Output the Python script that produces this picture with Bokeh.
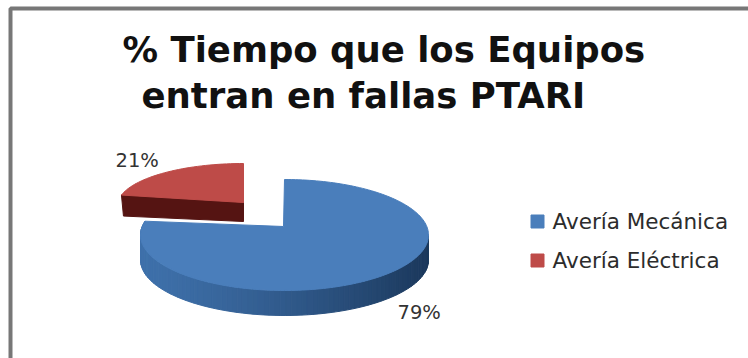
import numpy as np
from bokeh.core.properties import value
from bokeh.embed import file_html
from bokeh.models import Range1d
from bokeh.plotting import figure
from bokeh.resources import INLINE

# Chart content
title_lines = ["% Tiempo que los Equipos", "entran en fallas PTARI"]
categories = ["Avería Mecánica", "Avería Eléctrica"]
shares = [79, 21]
share_labels = ["79%", "21%"]
colors = ["#4a7ebb", "#be4b48"]

W, H = 748, 358
p = figure(width=W, height=H, output_backend="svg", toolbar_location=None,
           x_range=Range1d(0, W), y_range=Range1d(H, 0), min_border=0)
p.axis.visible = False
p.grid.visible = False
p.outline_line_color = None
p.background_fill_color = "white"
p.border_fill_color = "white"

# Frame of the chart area
p.quad(left=[10], right=[W + 6], top=[8], bottom=[H + 6], fill_color="white",
       line_color="#777777", line_width=4)


def rim(angle, cx, cy, rx, ry):
    """Point on the tilted disc, angle in degrees clockwise from twelve o'clock."""
    t = np.radians(angle)
    return cx + rx * np.sin(t), cy - ry * np.cos(t)


def mix(a, b, f):
    return tuple(int(round(a[i] + (b[i] - a[i]) * f)) for i in range(3))


split = 360 * shares[0] / sum(shares)

# Layout of the two slices
blue = dict(cx=284, cy=234.5, rx=144, ry=55.5)
blue_apex = (283, 226)
red = dict(cx=243, cy=205, rx=126, ry=42)
red_apex = (243, 202)
blue_depth = 25
red_depth = 19

# Exploded red slice: cut wall, then top face
rim_red = np.linspace(split, 360, 40)
rx_pts, ry_pts = rim(rim_red, **red)
p.patch([red_apex[0], rx_pts[0], rx_pts[0] + 2, red_apex[0]],
        [red_apex[1], ry_pts[0], ry_pts[0] + red_depth + 2, red_apex[1] + red_depth],
        fill_color="#551412", line_color="#551412")
p.patch(np.r_[red_apex[0], rx_pts], np.r_[red_apex[1], ry_pts],
        fill_color=colors[1], line_color=colors[1])

# Blue slice: outer wall shaded in narrow strips from left to right
light, dark = (62, 112, 170), (27, 56, 92)
edges = np.linspace(split, 90, 90)
for a0, a1 in zip(edges[:-1], edges[1:]):
    x0, y0 = rim(a0, **blue)
    x1, y1 = rim(a1, **blue)
    f = float((x0 - (blue["cx"] - blue["rx"])) / (2 * blue["rx"])) ** 1.3
    c = "#%02x%02x%02x" % mix(light, dark, f)
    p.patch([x0, x1, x1, x0], [y0, y1, y1 + blue_depth, y0 + blue_depth],
            fill_color=c, line_color=c)

# Blue slice: top face
rim_blue = np.linspace(0, split, 200)
bx_pts, by_pts = rim(rim_blue, **blue)
p.patch(np.r_[blue_apex[0], bx_pts], np.r_[blue_apex[1], by_pts],
        fill_color=colors[0], line_color=colors[0])

# Title
for line, tx, ty in zip(title_lines, [122, 141], [49, 95]):
    p.text([tx], [ty], text=[line], text_font=value("DejaVu Sans"), text_font_style="bold",
           text_font_size="35.5px", text_color="#111111", text_align="left",
           text_baseline="middle")

# Slice labels
p.text([397, 115], [312, 160], text=share_labels, text_font=value("DejaVu Sans"),
       text_font_size="19.5px", text_color="#333333", text_align="left", text_baseline="middle")

# Legend
for name, col, ly in zip(categories, colors, [221, 260]):
    p.square([537], [ly], size=13, fill_color=col, line_color=col)
    p.text([552], [ly], text=[name], text_font=value("DejaVu Sans"), text_font_size="21.5px",
           text_color="#2c2c2c", text_align="left", text_baseline="middle")

open("out.html", "w").write(file_html(p, INLINE))
